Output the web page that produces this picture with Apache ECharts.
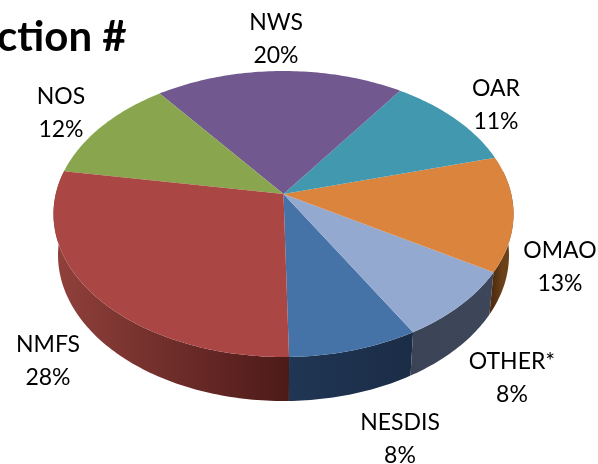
<!DOCTYPE html>
<html>
<head>
<meta charset="utf-8">
<style>html,body{margin:0;padding:0;background:#fff}#container{width:598px;height:464px}</style>
<script src="https://cdn.jsdelivr.net/npm/echarts@6/dist/echarts.min.js"></script>
</head>
<body>
<div id="container"></div>
<script>
// slices in drawing order, going round from the bottom towards the right
var names = ['NESDIS', 'OTHER*', 'OMAO', 'OAR', 'NWS', 'NOS', 'NMFS'];
var shares = [8, 8, 13, 11, 20, 12, 28];
var topColors = ['#4572a7', '#93a9cf', '#db843d', '#4198af', '#71588f', '#89a54e', '#aa4643'];
var sideColors = [
    ['#1f3654', '#1b2c46'],
    ['#3b4456', '#3e4759'],
    ['#4f2e12', '#6b4119'],
    ['#000', '#000'],
    ['#000', '#000'],
    ['#000', '#000'],
    ['#8e3f3a', '#4d1a18']
];
var labelX = [400, 512, 560, 496, 276, 61, 48];
var labelY = [422, 361, 250, 88, 22, 96, 344];
var title = 'ction #';

// pie geometry: tilted disc with perspective, so the apex is not the ellipse centre
var top_ = {cx: 283.5, cy: 214, rx: 230, ry: 143};
var bottom_ = {cx: 283.5, cy: 255, rx: 225.5, ry: 146};
var persp = 0.14;
var startDeg = 1.2;

function project(deg, e, r) {
    var a = deg * Math.PI / 180;
    var x = r * Math.sin(a), y = r * Math.cos(a);
    var d = 1 - persp * y;
    return [e.cx + e.rx * x * Math.sqrt(1 - persp * persp) / d, e.cy + e.ry * (y - persp) / d];
}
function sliceRange(i) {
    var sum = 0, total = 0;
    for (var k = 0; k < shares.length; k++) {
        if (k < i) sum += shares[k];
        total += shares[k];
    }
    return [startDeg + sum / total * 360, startDeg + (sum + shares[i]) / total * 360];
}
function sidePolygon(from, to) {
    var pts = [], t;
    for (t = from; t < to; t += 1) pts.push(project(t, top_, 1));
    pts.push(project(to, top_, 1));
    for (t = to; t > from; t -= 1) pts.push(project(t, bottom_, 1));
    pts.push(project(from, bottom_, 1));
    return pts;
}
// walls: only the front part of the rim shows
function renderSide(params) {
    var i = params.dataIndex, r = sliceRange(i), kids = [];
    var spans = [[0, 100], [260, 362]];
    spans.forEach(function (s) {
        var a = Math.max(r[0], s[0]), b = Math.min(r[1], s[1]);
        if (b <= a) return;
        var x0 = project(a, top_, 1)[0], x1 = project(b, top_, 1)[0];
        kids.push({
            type: 'polygon',
            shape: {points: sidePolygon(a, b)},
            style: {fill: {
                type: 'linear', global: true, x: x0, y: 0, x2: x1, y2: 0,
                colorStops: [{offset: 0, color: sideColors[i][0]}, {offset: 1, color: sideColors[i][1]}]
            }}
        });
    });
    return {type: 'group', children: kids};
}
function renderTop(params) {
    var i = params.dataIndex, r = sliceRange(i);
    var pts = [project(0, top_, 0)];
    for (var t = r[0]; t < r[1]; t += 1) pts.push(project(t, top_, 1));
    pts.push(project(r[1], top_, 1));
    return {type: 'polygon', shape: {points: pts}, style: {fill: topColors[i]}};
}

var dom = document.getElementById('container');
var myChart = echarts.init(dom);
var labels = names.map(function (n, i) {
    return {
        type: 'text', x: labelX[i], y: labelY[i] - 16,
        style: {
            text: n + '\n' + shares[i] + '%',
            font: '23px Lato', lineHeight: 33, fill: '#000',
            align: 'center', verticalAlign: 'top'
        }
    };
});
labels.push({
    type: 'text', x: -3, y: 37,
    style: {text: title, font: 'bold 42px Lato', fill: '#000', align: 'left', verticalAlign: 'middle'}
});
var option = {
    animation: false,
    backgroundColor: '#fff',
    series: [
        {type: 'custom', coordinateSystem: 'none', silent: true, data: shares, renderItem: renderSide},
        {type: 'custom', coordinateSystem: 'none', silent: true, data: shares, renderItem: renderTop}
    ],
    graphic: labels
};
myChart.setOption(option);
</script>
</body>
</html>
